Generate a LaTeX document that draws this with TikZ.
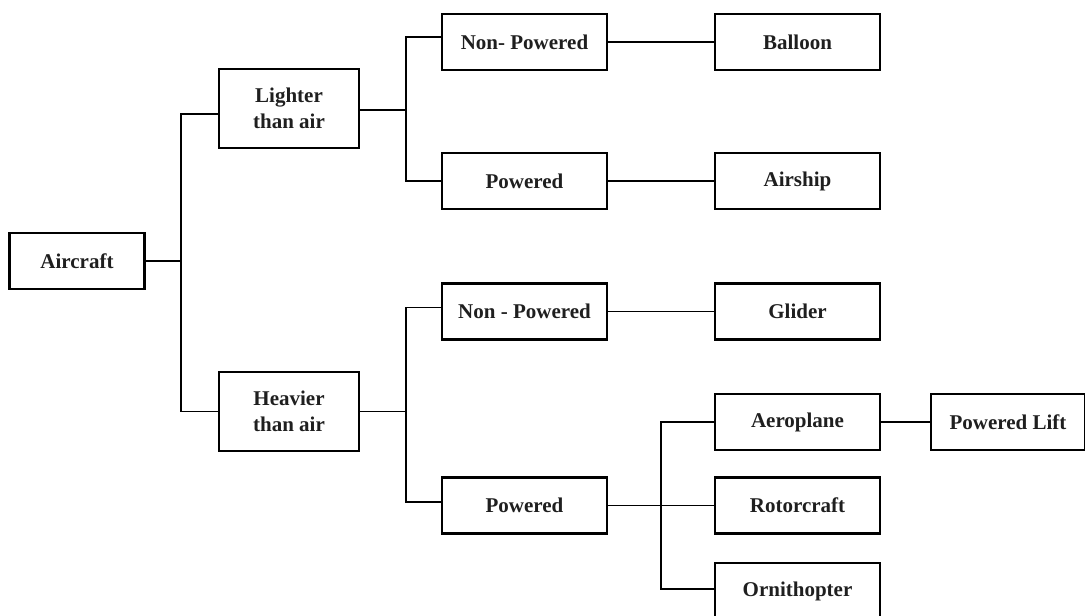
\documentclass[tikz,border=0pt]{standalone}
\usepackage{fontspec}
\setmainfont{Liberation Serif}
\begin{document}
\begin{tikzpicture}[x=0.5pt,y=-0.5pt,
  box/.style={draw, line width=1.4pt, inner sep=1pt, align=center, text=black!88,
    font=\bfseries\fontsize{10.5}{13}\selectfont},
  wbox/.style={box, minimum width=82.5pt, minimum height=28pt},
  conn/.style={line width=0.6pt}]
\useasboundingbox (0,0) rectangle (1085,615);
\clip (0,0) rectangle (1085,615);
% level 0
\node[box, minimum width=67.5pt, minimum height=28pt] (air) at (77,261) {Aircraft};
% level 1
\node[box, minimum width=70pt, minimum height=39.5pt] (lta) at (289,108.5) {Lighter\\than air};
\node[box, minimum width=70pt, minimum height=39.5pt] (hta) at (289,411.5) {Heavier\\than air};
% level 2
\node[wbox] (np1) at (524.5,42) {Non- Powered};
\node[wbox] (p1)  at (524.5,181) {Powered};
\node[wbox] (np2) at (524.5,311.5) {Non - Powered};
\node[wbox] (p2)  at (524.5,505.5) {Powered};
% level 3
\node[wbox] (bal) at (797.5,42) {Balloon};
\node[wbox] (shp) at (797.5,181) {Airship};
\node[wbox] (gli) at (797.5,311.5) {Glider};
\node[wbox] (aer) at (797.5,422) {Aeroplane};
\node[wbox] (rot) at (797.5,505.5) {Rotorcraft};
\node[wbox] (orn) at (797.5,591) {Ornithopter};
% level 4
\node[box, minimum width=77pt, minimum height=28pt] (pl) at (1008,422) {Powered Lift};
% junctions
\coordinate (j0) at (181,261);
\coordinate (j1) at (406,110);
\coordinate (j2) at (406,411.5);
\coordinate (j3) at (661,505.5);
% connectors
\draw[conn] (air.east) -- (j0);
\draw[conn] ([yshift=-2.75pt]lta.west) -| (j0) |- (hta.west);
\draw[conn] ([yshift=-0.75pt]lta.east) -- (j1);
\draw[conn] ([yshift=2.5pt]np1.west) -| (j1) |- (p1.west);
\draw[conn] (hta.east) -- (j2);
\draw[conn] ([yshift=2pt]np2.west) -| (j2) |- ([yshift=1.75pt]p2.west);
\draw[conn] (np1.east) -- (bal.west);
\draw[conn] (p1.east) -- (shp.west);
\draw[conn] (np2.east) -- (gli.west);
\draw[conn] (p2.east) -- (j3) -- (rot.west);
\draw[conn] (aer.west) -| (j3) |- ([yshift=1pt]orn.west);
\draw[conn] (aer.east) -- (pl.west);
\end{tikzpicture}
\end{document}
